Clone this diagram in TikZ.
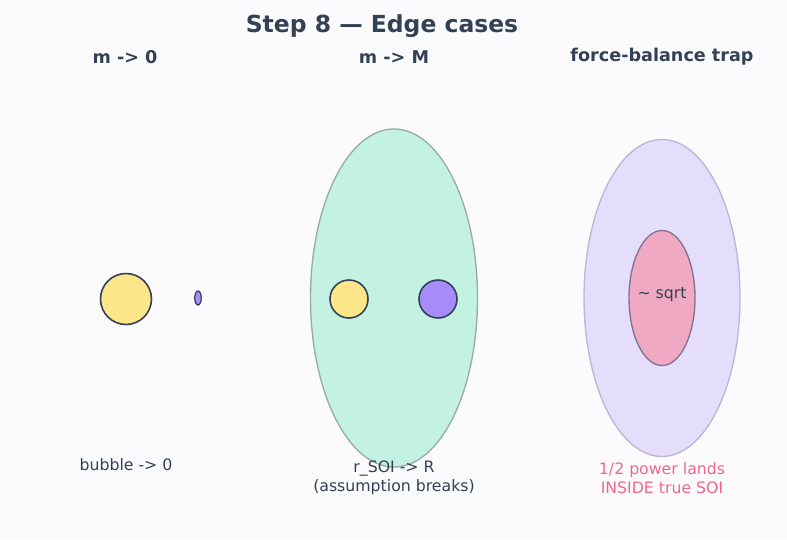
\documentclass[tikz,border=0pt]{standalone}
\usepackage{fontspec}
\setmainfont{DejaVu Sans}
\usepackage{tikz}

\definecolor{ink}{HTML}{334155}
\definecolor{bg}{HTML}{FBFBFD}
\definecolor{sun}{HTML}{FDE68A}
\definecolor{planet}{HTML}{A78BFA}
\definecolor{mint}{HTML}{C3F2E2}
\definecolor{mintline}{HTML}{9AABA6}
\definecolor{lav}{HTML}{E4DEFC}
\definecolor{lavline}{HTML}{BDB5D2}
\definecolor{rose}{HTML}{F0A9C2}
\definecolor{roseline}{HTML}{7F7391}
\definecolor{warn}{HTML}{EE6A8A}

\begin{document}
\begin{tikzpicture}[x=0.75pt,y=-0.75pt,line join=round,
    title/.style={font=\fontsize{17.6}{21}\selectfont\bfseries,text=ink},
    head/.style={font=\fontsize{13.2}{16}\selectfont\bfseries,text=ink},
    note/.style={font=\fontsize{11.8}{14.4}\selectfont,text=ink,align=center},
    body/.style={draw=ink,line width=1.2pt}]
    \fill[bg] (0,0) rectangle (787,539);
    \useasboundingbox (0,0) rectangle (787,539);
    \node[title] (ttl) at (382,26) {Step 8 — Edge cases};
    \node[head] (h1) at (125,57) {m -> 0};
    \node[head] (h2) at (394,57) {m -> M};
    \node[head] (h3) at (662,57) {force-balance trap};
    % m -> 0
    \draw[body,fill=sun] (126,299) circle (25.5);
    \draw[draw=ink,line width=0.9pt,fill=planet] (198,298) ellipse (3.3 and 7);
    \node[note] (n1) at (126,465) {bubble -> 0};
    % m -> M
    \draw[draw=mintline,line width=1pt,fill=mint] (394,298) ellipse (83.5 and 169);
    \draw[body,fill=sun] (349,299) circle (19);
    \draw[body,fill=planet] (438,299) circle (19);
    \node[note] (n2) at (394,478) {r\_SOI -> R\\(assumption breaks)};
    % trap
    \draw[draw=lavline,line width=1pt,fill=lav] (662,298) ellipse (78 and 158.5);
    \draw[draw=roseline,line width=1pt,fill=rose] (662,298) ellipse (33 and 67.5);
    \node[note] (sq) at (662,295) {\textasciitilde{} sqrt};
    \node[note,text=warn] (n3) at (662,478) {1/2 power lands\\INSIDE true SOI};
\end{tikzpicture}
\end{document}
